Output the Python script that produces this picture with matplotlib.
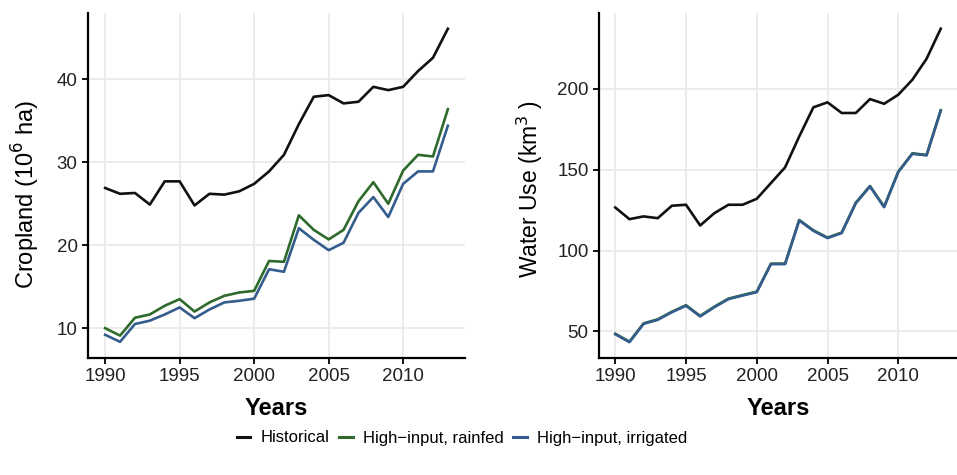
import numpy as np
import matplotlib.pyplot as plt
from matplotlib.lines import Line2D

plt.rcParams['font.family'] = ['Liberation Sans', 'DejaVu Sans']

years = np.arange(1990, 2014)

# Cropland (10^6 ha)
crop_hist = [26.9, 26.2, 26.3, 24.9, 27.7, 27.7, 24.8, 26.2, 26.1, 26.5, 27.4, 28.9,
             30.9, 34.6, 37.9, 38.1, 37.1, 37.3, 39.1, 38.7, 39.1, 41.0, 42.6, 46.1]
crop_rainfed = [10.0, 9.1, 11.25, 11.65, 12.7, 13.5, 12.0, 13.1, 13.9, 14.3, 14.5, 18.1,
                18.0, 23.6, 21.85, 20.7, 21.85, 25.3, 27.6, 25.0, 29.0, 30.9, 30.7, 36.4]
crop_irrig = [9.2, 8.35, 10.5, 10.9, 11.65, 12.5, 11.2, 12.25, 13.1, 13.3, 13.55, 17.1,
              16.8, 22.05, 20.65, 19.4, 20.3, 23.9, 25.8, 23.4, 27.4, 28.9, 28.9, 34.4]

# Water use (km^3)
water_hist = [126.6, 119.4, 121.1, 120.0, 127.7, 128.3, 115.5, 123.1, 128.3, 128.3, 132.0, 141.7,
              151.4, 170.5, 188.5, 191.6, 185.0, 185.0, 193.6, 190.7, 196.3, 205.6, 218.5, 237.1]
water_rainfed = [48.6, 43.7, 55.0, 57.5, 62.2, 66.2, 59.6, 65.3, 70.3, 72.5, 74.6, 91.9,
                 91.9, 118.9, 112.5, 108.0, 111.1, 129.6, 139.9, 127.1, 148.8, 160.1, 159.1, 186.7]
water_irrig = [48.3, 43.4, 54.7, 57.2, 61.9, 65.9, 59.3, 65.0, 70.0, 72.2, 74.3, 91.6,
               91.6, 118.6, 112.2, 107.7, 110.8, 129.3, 139.6, 126.8, 148.5, 159.8, 158.8, 186.4]

c_hist = '#111111'
c_rain = '#2E6A2B'
c_irr = '#345D8E'

fig = plt.figure(figsize=(9.57, 4.75), dpi=100)
ax1 = fig.add_axes([88/957, 1-358/475, (465-88)/957, (358-13)/475])
ax2 = fig.add_axes([599/957, 1-358/475, (957-599)/957, (358-13)/475])

def style(ax, yticks, ylabel, lsize, lx, ly):
    ax.set_xlim(1988.85, 2014.15)
    ax.set_xticks([1990, 1995, 2000, 2005, 2010])
    ax.set_yticks(yticks)
    ax.grid(True, color='#EBEBEB', lw=1.3)
    ax.set_axisbelow(True)
    for s in ['top', 'right']:
        ax.spines[s].set_visible(False)
    for s in ['left', 'bottom']:
        ax.spines[s].set_linewidth(1.6)
        ax.spines[s].set_color('black')
    ax.tick_params(axis='both', labelsize=13.5, width=1.3, length=4, color='black',
                   labelcolor='#222222')
    ax.set_xlabel('Years', fontsize=17, fontweight='bold', labelpad=8)
    ax.set_ylabel(ylabel, fontsize=lsize)
    ax.yaxis.set_label_coords(lx, ly)

ax1.plot(years, crop_hist, color=c_hist, lw=1.9)
ax1.plot(years, crop_rainfed, color=c_rain, lw=1.9)
ax1.plot(years, crop_irrig, color=c_irr, lw=1.9)
style(ax1, [10, 20, 30, 40], 'Cropland (10$^{6}$ ha)', 17, -0.122, 0.475)
ax1.set_ylim(6.4, 48.0)

ax2.plot(years, water_hist, color=c_hist, lw=1.9)
ax2.plot(years, water_rainfed, color=c_rain, lw=1.9)
ax2.plot(years, water_irrig, color=c_irr, lw=1.9)
style(ax2, [50, 100, 150, 200], 'Water Use (km$^{3}$ )', 16.5, -0.151, 0.49)
ax2.set_ylim(33.6, 246.8)

handles = [Line2D([], [], color=c, lw=2.2) for c in (c_hist, c_rain, c_irr)]
fig.legend(handles, ['Historical', 'High\u2212input, rainfed', 'High\u2212input, irrigated'],
           loc='center', bbox_to_anchor=(462/957, 1-438/475), ncol=3, frameon=False,
           fontsize=12, handlelength=0.8, handletextpad=0.6, columnspacing=0.6)

fig.savefig('out.png', dpi=100)
